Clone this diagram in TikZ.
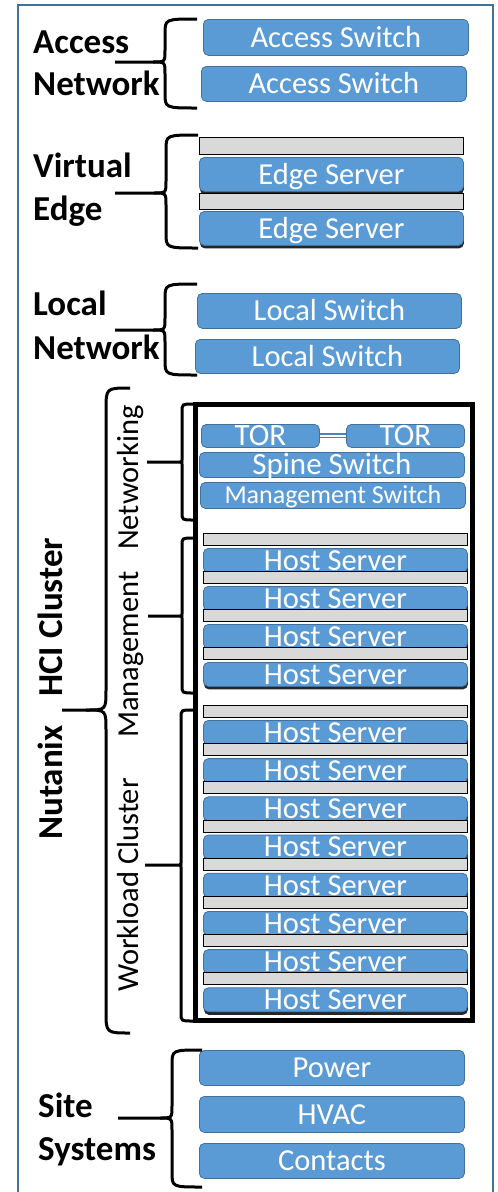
\documentclass[tikz,border=0pt]{standalone}
\usepackage{fontspec}
\setmainfont{Carlito}
\usetikzlibrary{shadows}
\definecolor{boxblue}{RGB}{91,155,213}
\definecolor{boxedge}{RGB}{65,113,156}
\definecolor{frameblue}{RGB}{65,113,156}
\definecolor{bargray}{RGB}{217,217,217}
\newcommand\rbox[7]{\node[#1, anchor=north west, minimum width={(#5-#3)*1pt}, minimum height={(#6-#4)*1pt}] (#2) at (#3,#4) {#7};}
\newcommand\mybrace[8]{%
  \draw[bracestyle] (#1,#4) .. controls (#2,#4) .. (#2,#4+#7) -- (#2,#5-#8) .. controls (#2,#5) .. (#2-#8,#5) -- (#3,#5);
  \draw[bracestyle] (#2-#8,#5) .. controls (#2,#5) .. (#2,#5+#8) -- (#2,#6-#7) .. controls (#2,#6) .. (#1,#6);}
\begin{document}
\begin{tikzpicture}[x=1pt,y=-1pt,
  bluebox/.style={draw=boxedge, line width=0.8pt, fill=boxblue, rounded corners=5pt, inner sep=0pt,
    text=white, font=\fontsize{30.5}{30.5}\selectfont, text height=19.6pt, text depth=0pt},
  server/.style={bluebox, drop shadow={shadow xshift=0.5pt, shadow yshift=-3pt, opacity=0.85, fill=black}},
  graybar/.style={draw=black, line width=1pt, fill=bargray, inner sep=0pt},
  grouplbl/.style={font=\fontsize{35}{35}\selectfont\bfseries, anchor=base west, inner sep=0pt},
  sidelbl/.style={font=\fontsize{30.5}{30.5}\selectfont, rotate=90, anchor=base west, inner sep=0pt},
  sidebold/.style={font=\fontsize{35}{35}\selectfont\bfseries, rotate=90, anchor=base west, inner sep=0pt},
  bracestyle/.style={line width=3pt, black}]
\useasboundingbox (0,0) rectangle (498,1192);
\fill[white] (0,0) rectangle (498,1192);
% outer frame
\draw[frameblue, line width=1.5pt] (18,1192) -- (18,5) -- (493,5) -- (493,1192);

% Access network
\rbox{bluebox}{as1}{203}{19}{468}{55}{Access Switch}
\rbox{bluebox}{as2}{201}{66}{466}{101}{Access Switch}
\mybrace{197}{165}{115}{19}{62}{108}{15}{12}
\node[grouplbl] (lacc) at (33,53) {Access};
\node[grouplbl] (lnet) at (33,95) {Network};

% Virtual edge
\rbox{graybar}{eg1}{199}{137}{463}{154}{}
\rbox{server}{es1}{199}{157}{463}{191}{Edge Server}
\rbox{graybar}{eg2}{199}{193}{463}{209}{}
\rbox{server}{es2}{199}{211}{463}{245}{Edge Server}
\mybrace{198}{166}{115}{135}{193}{248}{15}{12}
\node[grouplbl] (lvir) at (33,177) {Virtual};
\node[grouplbl] (ledg) at (33,220) {Edge};

% Local network
\rbox{bluebox}{ls1}{197}{293}{461}{328}{Local Switch}
\rbox{bluebox}{ls2}{195}{339}{459}{373}{Local Switch}
\mybrace{197}{165}{115}{284}{330}{375}{15}{12}
\node[grouplbl] (lloc) at (33,315) {Local};
\node[grouplbl] (lnet2) at (33,359) {Network};

% Nutanix cluster box
\draw[line width=5pt] (195.5,404.5) rectangle (472,1020);
\rbox{bluebox, font=\fontsize{31}{31}\selectfont}{tor1}{201}{424}{319}{447}{TOR}
\rbox{bluebox, font=\fontsize{31}{31}\selectfont}{tor2}{346}{424}{464}{447}{TOR}
\draw[boxblue!85!black, line width=1.3pt, double=white, double distance=2.5pt] (tor1.east) -- (tor2.west);
\rbox{bluebox, font=\fontsize{31}{31}\selectfont}{spine}{199}{452}{464}{477}{Spine Switch}
\rbox{bluebox, font=\fontsize{26}{26}\selectfont, text height=16.7pt}{mgsw}{200}{482}{465}{508}{Management Switch}

\foreach \k in {0,...,3}{
  \pgfmathsetmacro\gt{533+38*\k}\pgfmathsetmacro\gb{545+38*\k}
  \pgfmathsetmacro\st{548+38*\k}\pgfmathsetmacro\sb{572+38*\k}
  \rbox{graybar}{mg\k}{203}{\gt}{467}{\gb}{}
  \rbox{server}{mh\k}{203}{\st}{467}{\sb}{Host Server}
}
\foreach \k in {0,...,7}{
  \pgfmathsetmacro\gt{705+38.2*\k}\pgfmathsetmacro\gb{717+38.2*\k}
  \pgfmathsetmacro\st{720+38.2*\k}\pgfmathsetmacro\sb{744+38.2*\k}
  \rbox{graybar}{wg\k}{203}{\gt}{467}{\gb}{}
  \rbox{server}{wh\k}{203}{\st}{467}{\sb}{Host Server}
}

\mybrace{193}{182}{147}{404}{462}{520}{8}{2}
\mybrace{193}{182}{148}{538}{616}{693}{8}{2}
\mybrace{193}{181}{145}{710}{865}{1021}{8}{2}
\mybrace{130}{106}{62}{388}{710}{1033}{22}{20}

\node[sidelbl] (lnw) at (138,550) {Networking};
\node[sidelbl] (lmg) at (138,738) {Management};
\node[sidelbl] (lwc) at (138,992) {Workload Cluster};
\node[sidebold] (lnx) at (62,840) {Nutanix};
\node[sidebold] (lhci) at (62,697) {HCI Cluster};

% Site systems
\rbox{bluebox}{pw}{199}{1050}{464}{1085}{Power}
\rbox{bluebox}{hv}{199}{1096}{464}{1132}{HVAC}
\rbox{bluebox}{ct}{199}{1143}{464}{1178}{Contacts}
\mybrace{202}{172}{118}{1050}{1118}{1187}{15}{12}
\node[grouplbl] (lsit) at (38,1117) {Site};
\node[grouplbl] (lsys) at (38,1160) {Systems};
\end{tikzpicture}
\end{document}
